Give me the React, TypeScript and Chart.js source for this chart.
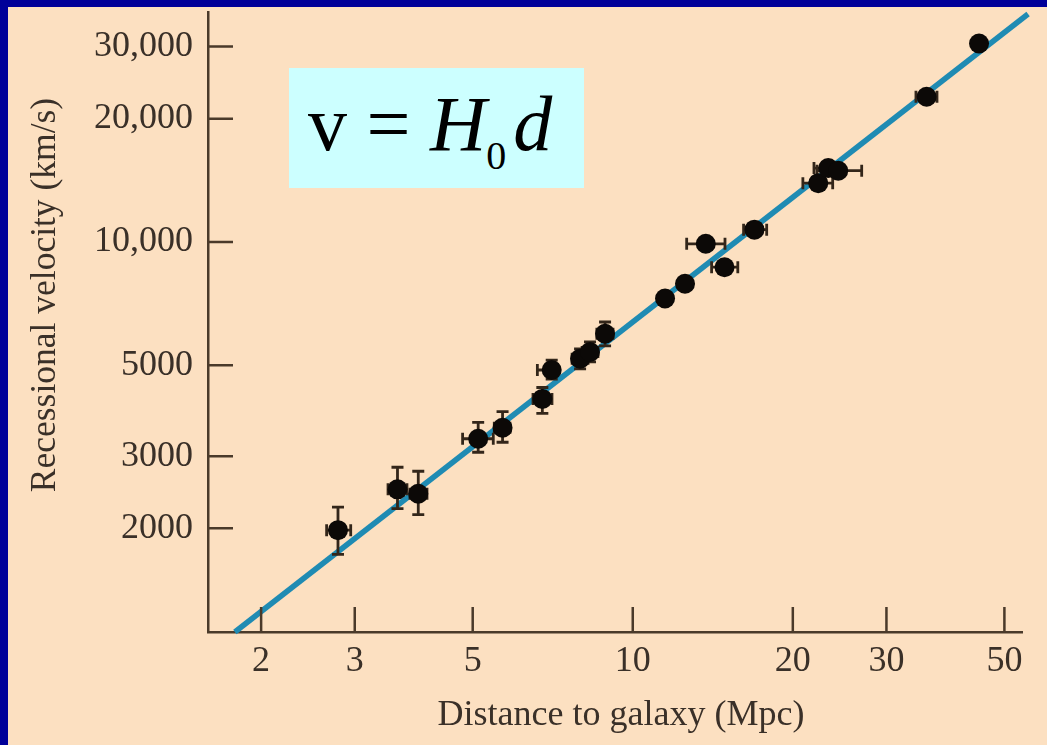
import React, { useEffect, useRef } from 'react';
import { Chart, registerables } from 'chart.js';

Chart.register(...registerables);

// ---- data ----
const distance = [2.79, 3.61, 3.95, 5.12, 5.69, 6.76, 7.04, 7.96, 8.31, 8.87, 11.5, 12.54, 13.72, 14.88, 16.94, 22.33, 23.32, 24.35, 35.7, 44.8];
const velocity = [1980, 2490, 2430, 3310, 3520, 4140, 4870, 5190, 5390, 5970, 7280, 7910, 9900, 8680, 10720, 13920, 15150, 14930, 22630, 30520];
const velocityLow: (number | null)[] = [1727, 2234, 2160, 3068, 3245, 3816, 4628, 4902, 5099, 5578, null, null, null, null, null, null, null, null, null, null];
const velocityHigh: (number | null)[] = [2254, 2820, 2757, 3628, 3853, 4415, 5148, 5485, 5704, 6379, null, null, null, null, null, null, null, null, null, null];
const distanceLow: (number | null)[] = [2.656, 3.465, 3.81, 4.786, 5.49, 6.492, 6.616, 7.69, 8.03, 8.56, null, null, 12.63, 14.07, 16.16, 20.89, 21.92, 22.21, 34.09, null];
const distanceHigh: (number | null)[] = [2.948, 3.761, 4.102, 5.466, 5.876, 7.048, 7.161, 8.24, 8.6, 9.18, null, null, 14.91, 15.76, 17.86, 23.77, 24.11, 26.95, 37.34, null];

const fitLineDistance = [1.785, 55.4];
const fitLineVelocity = [1117, 36030];

const xTickValues = [2, 3, 5, 10, 20, 30, 50];
const xTickLabels = ['2', '3', '5', '10', '20', '30', '50'];
const yTickValues = [2000, 3000, 5000, 10000, 20000, 30000];
const yTickLabels = ['2000', '3000', '5000', '10,000', '20,000', '30,000'];

const xRange = [1.589, 53.96];
const yRange = [1117, 36430];

const xTitle = 'Distance to galaxy (Mpc)';
const yTitle = 'Recessional velocity (km/s)';

const INK = '#3a3028';
const AXIS = '#4a3a2a';
const FONT = "'Liberation Serif', 'Times New Roman', serif";

const decorPlugin = {
  id: 'decor',
  afterDatasetDraw(chart: any, args: any) {
    if (args.index !== 1) return;
    const { ctx, scales } = chart;
    const x = scales.x;
    const y = scales.y;
    ctx.save();
    ctx.strokeStyle = '#33261a';
    ctx.lineWidth = 2.8;
    const cap = 6;
    distance.forEach((d, i) => {
      const px = x.getPixelForValue(d);
      const py = y.getPixelForValue(velocity[i]);
      const lo = velocityLow[i];
      const hi = velocityHigh[i];
      if (lo != null && hi != null) {
        const y1 = y.getPixelForValue(lo);
        const y2 = y.getPixelForValue(hi);
        ctx.beginPath();
        ctx.moveTo(px, y1); ctx.lineTo(px, y2);
        ctx.moveTo(px - cap, y1); ctx.lineTo(px + cap, y1);
        ctx.moveTo(px - cap, y2); ctx.lineTo(px + cap, y2);
        ctx.stroke();
      }
      const dl = distanceLow[i];
      const dh = distanceHigh[i];
      if (dl != null && dh != null) {
        const x1 = x.getPixelForValue(dl);
        const x2 = x.getPixelForValue(dh);
        ctx.beginPath();
        ctx.moveTo(x1, py); ctx.lineTo(x2, py);
        ctx.moveTo(x1, py - cap); ctx.lineTo(x1, py + cap);
        ctx.moveTo(x2, py - cap); ctx.lineTo(x2, py + cap);
        ctx.stroke();
      }
    });
    ctx.restore();
  },
  afterDraw(chart: any) {
    const { ctx, scales, chartArea } = chart;
    const x = scales.x;
    const y = scales.y;
    const tick = 25;
    ctx.save();
    ctx.strokeStyle = AXIS;
    ctx.lineWidth = 2.5;
    ctx.beginPath();
    xTickValues.forEach((v) => {
      const px = x.getPixelForValue(v);
      ctx.moveTo(px, chartArea.bottom);
      ctx.lineTo(px, chartArea.bottom - tick);
    });
    yTickValues.forEach((v) => {
      const py = y.getPixelForValue(v);
      ctx.moveTo(chartArea.left, py);
      ctx.lineTo(chartArea.left + tick, py);
    });
    ctx.stroke();

    ctx.fillStyle = INK;
    ctx.textAlign = 'center';
    ctx.textBaseline = 'alphabetic';
    ctx.font = `36px ${FONT}`;
    ctx.fillText(xTitle, (chartArea.left + chartArea.right) / 2 + 6, chartArea.bottom + 93);

    ctx.translate(chartArea.left - 153, (chartArea.top + chartArea.bottom) / 2 - 27);
    ctx.rotate(-Math.PI / 2);
    ctx.font = `35.5px ${FONT}`;
    ctx.fillText(yTitle, 0, 0);
    ctx.restore();
  },
};

const zeroPadding = (s: any) => {
  s.paddingTop = 0;
  s.paddingBottom = 0;
  s.paddingLeft = 0;
  s.paddingRight = 0;
};

export default function App() {
  const canvasRef = useRef<HTMLCanvasElement | null>(null);

  useEffect(() => {
    if (!canvasRef.current) return;
    const chart = new Chart(canvasRef.current, {
      type: 'scatter',
      data: {
        datasets: [
          {
            label: 'Galaxies',
            data: distance.map((d, i) => ({ x: d, y: velocity[i] })),
            pointRadius: 10,
            pointHoverRadius: 10,
            backgroundColor: '#0c0907',
            borderWidth: 0,
          },
          {
            label: 'v = H0 d',
            data: fitLineDistance.map((d, i) => ({ x: d, y: fitLineVelocity[i] })),
            showLine: true,
            borderColor: '#1f8bb3',
            borderWidth: 5.5,
            pointRadius: 0,
            clip: false as any,
          } as any,
        ],
      },
      options: {
        animation: false,
        responsive: true,
        maintainAspectRatio: false,
        layout: { padding: { top: 0, right: 25, left: 0, bottom: 0 } },
        plugins: { legend: { display: false }, tooltip: { enabled: false } },
        scales: {
          x: {
            type: 'logarithmic',
            min: xRange[0],
            max: xRange[1],
            afterBuildTicks: (s: any) => { s.ticks = xTickValues.map((v) => ({ value: v })); },
            afterFit: (s: any) => { s.height = 113; zeroPadding(s); },
            grid: { display: true, drawOnChartArea: false, drawTicks: false },
            border: { display: true, color: AXIS, width: 2.5 },
            ticks: {
              autoSkip: false,
              maxRotation: 0,
              padding: 8,
              color: INK,
              font: { family: FONT, size: 36 },
              callback: (v: any) => {
                const k = xTickValues.indexOf(Number(v));
                return k >= 0 ? xTickLabels[k] : '';
              },
            },
          },
          y: {
            type: 'logarithmic',
            min: yRange[0],
            max: yRange[1],
            afterBuildTicks: (s: any) => { s.ticks = yTickValues.map((v) => ({ value: v })); },
            afterFit: (s: any) => { s.width = 200; zeroPadding(s); },
            grid: { display: true, drawOnChartArea: false, drawTicks: false },
            border: { display: true, color: AXIS, width: 2.5 },
            ticks: {
              autoSkip: false,
              padding: 15,
              color: INK,
              font: { family: FONT, size: 36 },
              callback: (v: any) => {
                const k = yTickValues.indexOf(Number(v));
                return k >= 0 ? yTickLabels[k] : '';
              },
            },
          },
        },
      } as any,
      plugins: [decorPlugin],
    });
    return () => chart.destroy();
  }, []);

  return (
    <div style={{ position: 'absolute', left: 0, top: 0, width: 1047, height: 745, background: '#000099', overflow: 'hidden' }}>
      <div style={{ position: 'absolute', left: 8, top: 7, width: 1039, height: 738, background: '#FCE0C1' }} />
      <div style={{ position: 'absolute', left: 8, top: 2, width: 1039, height: 743 }}>
        <canvas ref={canvasRef} />
      </div>
      <div style={{ position: 'absolute', left: 289, top: 68, width: 295, height: 120, background: '#CCFFFF' }}>
        <div style={{ position: 'absolute', left: 19, top: 17, fontFamily: FONT, fontSize: 78, lineHeight: '78px', whiteSpace: 'nowrap', color: '#000' }}>
          v = <i>H</i><span style={{ fontSize: 40, position: 'relative', top: 19, marginRight: 7 }}>0</span><i>d</i>
        </div>
      </div>
    </div>
  );
}
